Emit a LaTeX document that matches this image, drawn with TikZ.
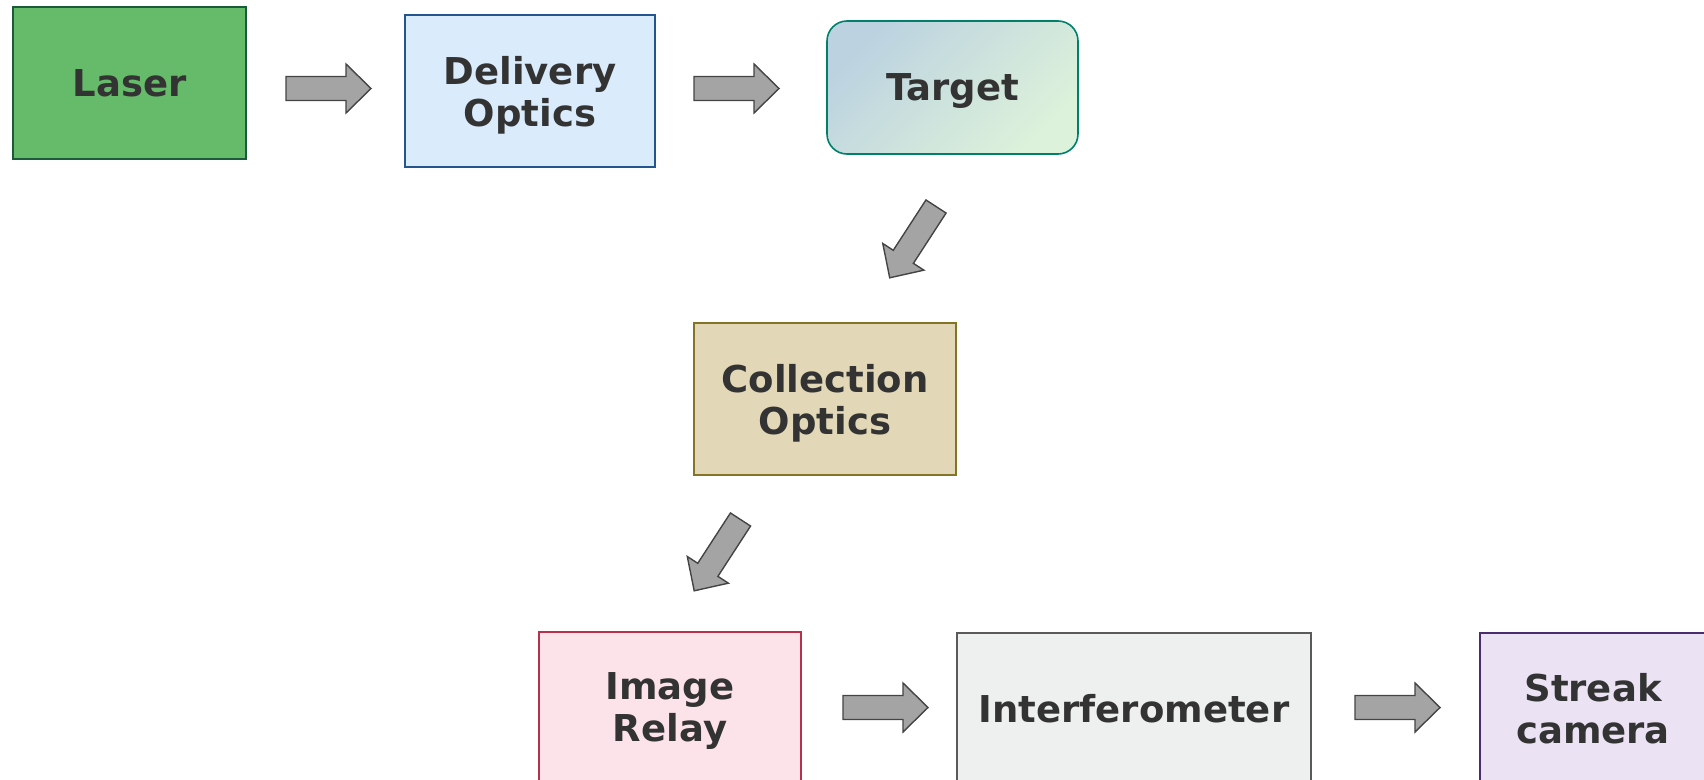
\documentclass[tikz,border=0pt]{standalone}
\usepackage{fontspec}
\setmainfont{DejaVu Sans}
\definecolor{txt}{HTML}{333333}
\definecolor{laserF}{HTML}{66BB6A}\definecolor{laserD}{HTML}{1A5C3A}
\definecolor{delivF}{HTML}{DAEBFC}\definecolor{delivD}{HTML}{23568F}
\definecolor{targA}{HTML}{BCD2E0}\definecolor{targB}{HTML}{DDF2DA}\definecolor{targD}{HTML}{00806A}
\definecolor{collF}{HTML}{E2D8B8}\definecolor{collD}{HTML}{857326}
\definecolor{imgF}{HTML}{FBE3E9}\definecolor{imgD}{HTML}{B8314A}
\definecolor{intF}{HTML}{EEF0EF}\definecolor{intD}{HTML}{5A5A5A}
\definecolor{strF}{HTML}{EBE2F4}\definecolor{strD}{HTML}{4B2C6E}
\definecolor{arrF}{HTML}{A3A4A3}\definecolor{arrD}{HTML}{444444}
\tikzset{
  box/.style={rectangle, inner sep=0pt, line width=1.6pt, align=center,
    text=txt, text depth=0pt, font=\fontsize{37}{42}\selectfont\bfseries},
  barrowstyle/.style={fill=arrF, draw=arrD, line width=1.4pt, line join=miter},
  pics/barrow/.style={code={
    \draw[barrowstyle] (0,-12) -- (60,-12) -- (60,-24.5) -- (85,0) -- (60,24.5) -- (60,12) -- (0,12) -- cycle;}}
}
\begin{document}
\begin{tikzpicture}[x=1pt,y=-1pt]
\useasboundingbox (0,0) rectangle (1704,779);
\clip (0,0) rectangle (1704,779);
\node[box, fill=laserF, draw=laserD, minimum width=233pt, minimum height=152pt] (laser) at (129.5,83) {Laser};
\node[box, fill=delivF, draw=delivD, minimum width=250pt, minimum height=152pt] (deliv) at (530,91) {Delivery\\Optics};
\node[box, draw=targD, top color=targA, bottom color=targB, shading angle=45, rounded corners=20pt, minimum width=251pt, minimum height=133pt] (target) at (952.5,87.5) {Target};
\node[box, fill=collF, draw=collD, minimum width=262pt, minimum height=152pt] (coll) at (825,399) {Collection\\Optics};
\node[box, fill=imgF, draw=imgD, minimum width=262pt, minimum height=150pt] (relay) at (670,707) {Image\\Relay};
\node[box, fill=intF, draw=intD, minimum width=354pt, minimum height=150pt] (inter) at (1134,708) {Interferometer};
\node[box, fill=strF, draw=strD, minimum width=226pt, minimum height=150pt] (streak) at (1593,708) {Streak\\camera};
\coordinate (a1) at (286,88.5);
\coordinate (a2) at (694,88.5);
\coordinate (a3) at (936,206.5);
\coordinate (a4) at (740.5,519.5);
\coordinate (a5) at (843,707.5);
\coordinate (a6) at (1355,707.5);
\pic at (a1) {barrow};
\pic at (a2) {barrow};
\pic[rotate=-123] at (a3) {barrow};
\pic[rotate=-123] at (a4) {barrow};
\pic at (a5) {barrow};
\pic at (a6) {barrow};
\end{tikzpicture}
\end{document}
